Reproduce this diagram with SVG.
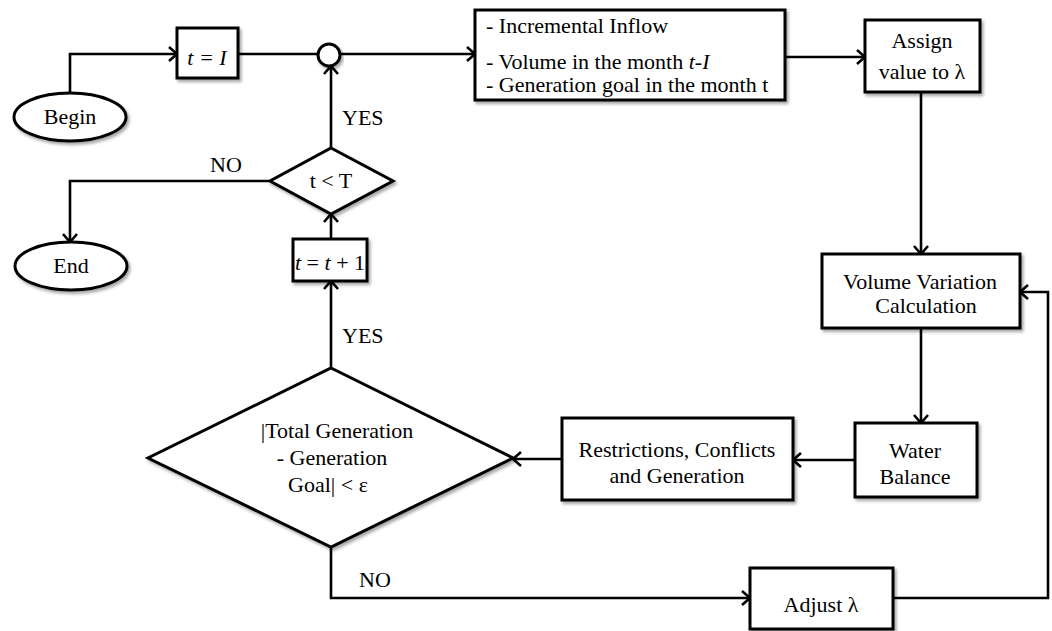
<svg xmlns="http://www.w3.org/2000/svg" width="1052" height="631" viewBox="0 0 1052 631">
<style>
.shape{fill:#fff;stroke:#000;stroke-width:3;filter:url(#sh)}
.conn{fill:none;stroke:#000;stroke-width:2.6;stroke-linejoin:miter}
.arr{marker-end:url(#ah)}
text{font-family:"Liberation Serif","Times New Roman",serif;font-size:22px;fill:#000}
.c{text-anchor:middle}
.i{font-style:italic}
</style>
<defs>
<filter id="sh" x="-10%" y="-10%" width="125%" height="130%">
<feDropShadow dx="2" dy="2.5" stdDeviation="1.5" flood-color="#000" flood-opacity="0.35"/>
</filter>
<marker id="ah" markerUnits="userSpaceOnUse" markerWidth="14" markerHeight="16" refX="10" refY="7" orient="auto" overflow="visible">
<path d="M2,0 L10,7 L2,14" fill="none" stroke="#000" stroke-width="2.6"/>
</marker>
</defs>
<rect width="1052" height="631" fill="#fff"/>
<g id="connectors">
<path class="conn arr" d="M70,92 V54 H177"/>
<path class="conn" d="M238,54 H318"/>
<path class="conn arr" d="M340,54 H475"/>
<path class="conn arr" d="M785,57 H865"/>
<path class="conn arr" d="M921,92 V254"/>
<path class="conn arr" d="M921,328 V423"/>
<path class="conn arr" d="M855,460 H793"/>
<path class="conn arr" d="M562,459 H513"/>
<path class="conn arr" d="M331,368 V281"/>
<path class="conn arr" d="M331,239 V214"/>
<path class="conn arr" d="M331,148 V66"/>
<path class="conn arr" d="M270,181 H70 V242"/>
<path class="conn arr" d="M331,547 V598 H750"/>
<path class="conn arr" d="M893,598 H1048 V292 H1020"/>
<text x="342" y="125">YES</text>
<text x="342" y="343">YES</text>
<text x="210" y="172">NO</text>
<text x="359" y="587">NO</text>
</g>
<g id="begin">
<ellipse class="shape" cx="70" cy="117" rx="56" ry="24"/>
<text class="c" x="70" y="124">Begin</text>
</g>
<g id="t1">
<rect class="shape" x="177" y="28" width="61" height="50"/>
<text class="c i" x="207" y="65">t = I</text>
</g>
<g id="junction">
<circle class="shape" cx="329" cy="55" r="11"/>
</g>
<g id="inputs">
<rect class="shape" x="475" y="10" width="310" height="90"/>
<text x="486" y="33">- Incremental Inflow</text>
<text x="486" y="69">- Volume in the month <tspan class="i">t-I</tspan></text>
<text x="486" y="92">- Generation goal in the month t</text>
</g>
<g id="assign">
<rect class="shape" x="865" y="20" width="115" height="72"/>
<text class="c" x="922" y="48">Assign</text>
<text class="c" x="922" y="79">value to λ</text>
</g>
<g id="volvar">
<rect class="shape" x="822" y="254" width="198" height="74"/>
<text class="c" x="920" y="289">Volume Variation</text>
<text class="c" x="926" y="313">Calculation</text>
</g>
<g id="water">
<rect class="shape" x="855" y="423" width="122" height="74"/>
<text class="c" x="915" y="458">Water</text>
<text class="c" x="915" y="484">Balance</text>
</g>
<g id="restrictions">
<rect class="shape" x="562" y="418" width="231" height="82"/>
<text class="c" x="677" y="457">Restrictions, Conflicts</text>
<text class="c" x="677" y="483">and Generation</text>
</g>
<g id="check">
<polygon class="shape" points="331,368 513,458 331,547 148,458"/>
<text class="c" x="337" y="438">|Total Generation</text>
<text class="c" x="332" y="465">- Generation</text>
<text class="c" x="328" y="492">Goal| &lt; ε</text>
</g>
<g id="adjust">
<rect class="shape" x="750" y="568" width="143" height="61"/>
<text class="c" x="821" y="612">Adjust λ</text>
</g>
<g id="increment">
<rect class="shape" x="293" y="239" width="74" height="42"/>
<text class="c" x="330" y="270"><tspan class="i">t</tspan> = <tspan class="i">t</tspan> + 1</text>
</g>
<g id="tlessT">
<polygon class="shape" points="331,148 393,181 331,214 270,181"/>
<text class="c" x="331" y="188">t &lt; T</text>
</g>
<g id="end">
<ellipse class="shape" cx="71" cy="266" rx="56" ry="24"/>
<text class="c" x="71" y="273">End</text>
</g>
</svg>
